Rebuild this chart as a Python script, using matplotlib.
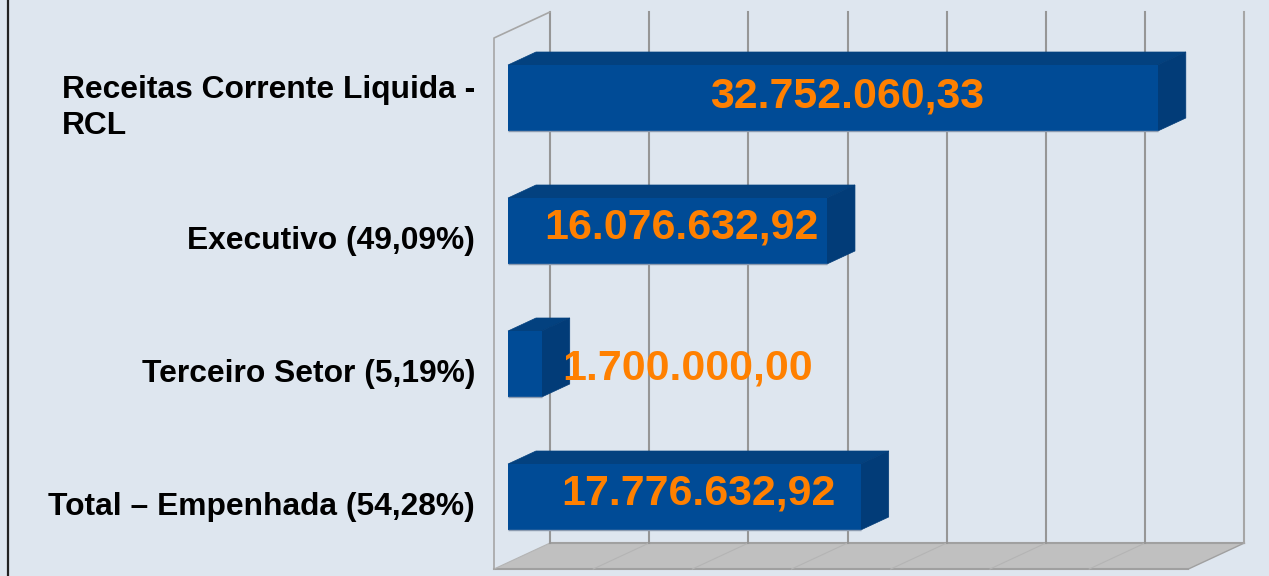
import matplotlib
matplotlib.use("Agg")
import matplotlib.pyplot as plt
from matplotlib.patches import Polygon
import numpy as np

categorias = ["Receitas Corrente Liquida -\nRCL", "Executivo (49,09%)",
              "Terceiro Setor (5,19%)", "Total – Empenhada (54,28%)"]
valores = [32752060.33, 16076632.92, 1700000.00, 17776632.92]
rotulos = ["32.752.060,33", "16.076.632,92", "1.700.000,00", "17.776.632,92"]
ticks = [0, 5e6, 10e6, 15e6, 20e6, 25e6, 30e6, 35e6]

# deslocamento dos rotulos em pixels (colocados a mao no original)
rot_dx = [14, 14, 163, 14]
rot_dy = [2, 4, -4, 4]

fundo = "#DEE6EF"
azul = "#004B96"
azul_topo = "#03417F"
azul_lado = "#023C78"
laranja = "#FF8000"
cinza = "#969696"

plt.rcParams["font.family"] = ["Liberation Sans", "DejaVu Sans"]

fig = plt.figure(figsize=(12.69, 5.76), dpi=100, facecolor=fundo)
ax = fig.add_axes([0, 0, 1, 1])
ax.axis("off")

# escala: 5.000.000 = 99.2 px, zero da barra em x=508, categorias a cada 133 px
vpp = 5e6 / 99.2
ypp = 1 / 133
ax.set_xlim(-508 * vpp, (1269 - 508) * vpp)
ax.set_ylim((576 - 98) * ypp, -98 * ypp)

prof_x = 28 * vpp   # profundidade 3D da barra
prof_y = 13 * ypp
z0 = -14 * vpp      # recuo da parede frontal
px_fundo = z0 + 56 * vpp
py_fundo = -26 * ypp
topo = (38 - 98) * ypp
base = (569 - 98) * ypp

# chao
ax.add_patch(Polygon([(z0, base), (z0 + ticks[-1], base),
                      (px_fundo + ticks[-1], base + py_fundo), (px_fundo, base + py_fundo)],
                     closed=True, fc="#C0C0C0", ec="none", zorder=1))
ax.plot([z0, z0 + ticks[-1]], [base, base], color="#A0A0A0", lw=1.5, zorder=2)
ax.plot([px_fundo, px_fundo + ticks[-1]], [base + py_fundo] * 2, color="#A0A0A0", lw=1.5, zorder=2)
for t in ticks[:-1]:
    ax.plot([z0 + t, px_fundo + t], [base, base + py_fundo], color="#B4B4B4", lw=0.8, zorder=2)
ax.plot([z0 + ticks[-1], px_fundo + ticks[-1]], [base, base + py_fundo], color="#A0A0A0", lw=1, zorder=2)

# grade de fundo e parede esquerda
for t in ticks:
    ax.plot([px_fundo + t] * 2, [topo + py_fundo, base + py_fundo],
            color=cinza if t < ticks[-1] else "#A6A6A6", lw=1.5, zorder=2)
ax.plot([z0, z0, px_fundo], [base, topo, topo + py_fundo], color="#A6A6A6", lw=1.2, zorder=2)

# barras
y = np.arange(len(valores))
alt = 66 * ypp
for yi, v in zip(y, valores):
    ax.add_patch(Polygon([(0, yi - alt / 2), (v, yi - alt / 2),
                          (v + prof_x, yi - alt / 2 - prof_y), (prof_x, yi - alt / 2 - prof_y)],
                         closed=True, fc=azul_topo, ec=azul_topo, lw=0.5, zorder=3))
    ax.add_patch(Polygon([(v, yi - alt / 2), (v + prof_x, yi - alt / 2 - prof_y),
                          (v + prof_x, yi + alt / 2 - prof_y), (v, yi + alt / 2)],
                         closed=True, fc=azul_lado, ec=azul_lado, lw=0.5, zorder=3))
ax.barh(y, valores, height=alt, color=azul, edgecolor="none", zorder=4)
ax.hlines(y + alt / 2, 0, valores, color="#8C9BB0", lw=1, zorder=4)

# rotulos das categorias
for yi, c in zip(y, categorias):
    ax.annotate(c, (0, yi), xytext=(-33, -10), textcoords="offset pixels",
                ha="right", va="center", multialignment="left",
                fontsize=22.9, fontweight="bold", color="black", linespacing=1.22, zorder=6)

# rotulos dos valores
for yi, v, r, dx, dy in zip(y, valores, rotulos, rot_dx, rot_dy):
    ax.annotate(r, (v / 2, yi), xytext=(dx, dy), textcoords="offset pixels",
                ha="center", va="center", fontsize=30.85, fontweight="bold",
                color=laranja, zorder=6)

# borda esquerda
ax.axvline(-500.5 * vpp, color="#222222", lw=1.6, zorder=7)

fig.savefig("out.png", dpi=100, facecolor=fundo)
